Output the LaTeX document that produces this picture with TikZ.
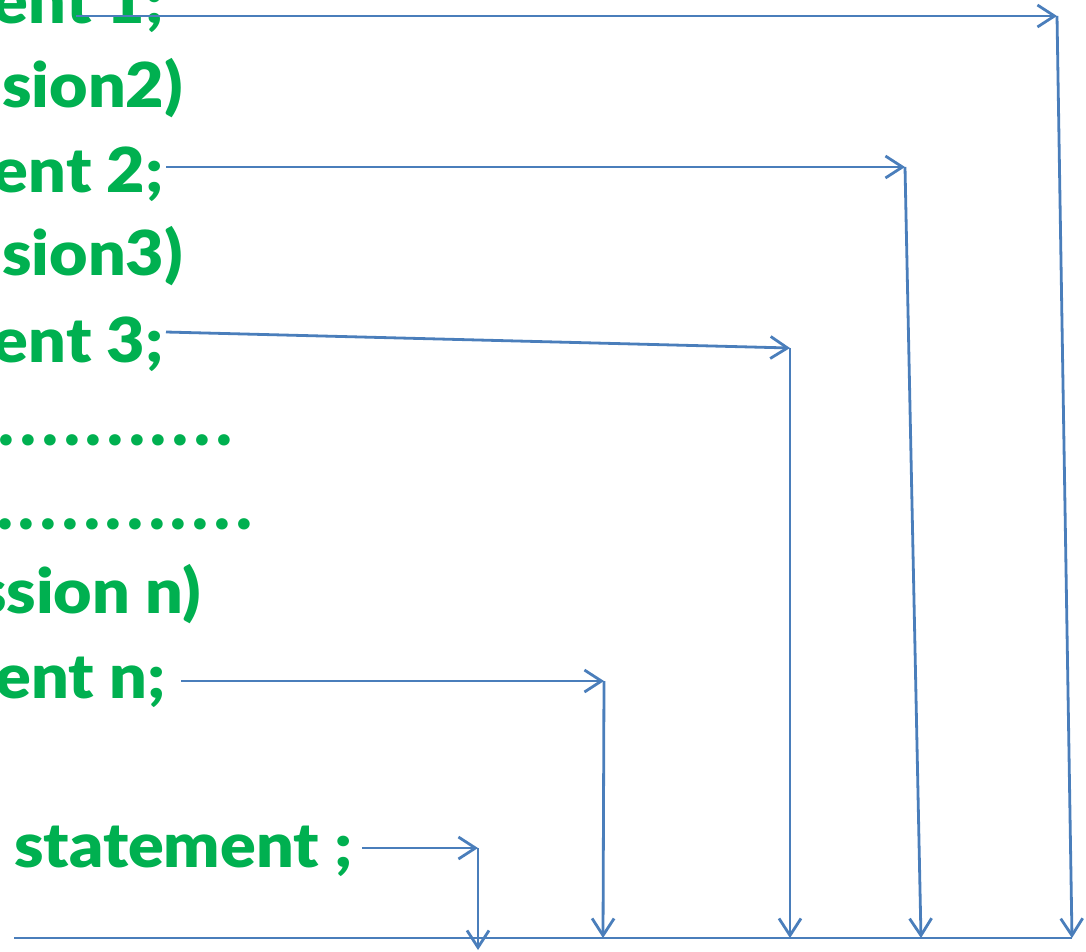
\documentclass[tikz,border=0pt]{standalone}
\usepackage{fontspec}
\setmainfont{Lato}
\newfontfamily\codefont{Lato Black}[FakeStretch=1.07]
\newfontfamily\dotfont{Lato Black}[LetterSpace=9]
\usetikzlibrary{arrows.meta}
\definecolor{codegreen}{HTML}{00B050}
\definecolor{flowblue}{HTML}{4A7EBB}
\begin{document}
\begin{tikzpicture}[x=1pt,y=-1pt,
  code/.style={font=\codefont\fontsize{62}{70}\selectfont, text=codegreen, inner sep=0pt, anchor=base east},
  dots/.style={font=\dotfont\fontsize{66}{70}\selectfont, text=codegreen, inner sep=0pt, anchor=base east},
  conn/.style={draw=flowblue, line width=2.8pt, -{Straight Barb[length=17pt,width=22pt]}},
  plain/.style={draw=flowblue, line width=2.8pt}]
\useasboundingbox (0,0) rectangle (1086,951);

% ladder of statements
\node[code] (s1) at (164,23) {statement 1;};
\node[code] (e2) at (183,107) {(expression2)};
\node[code] (s2) at (164,192) {statement 2;};
\node[code] (e3) at (183,275) {(expression3)};
\node[code] (s3) at (164,362) {statement 3;};
\node[dots] (d1) at (232,445) {............};
\node[dots] (d2) at (252,529) {.............};
\node[code] (en) at (201,613) {(expression n)};
\node[code] (sn) at (166,698) {statement n;};
\node[code] (sd) at (353,867) {statement ;};

% corners and ends of the flow lines
\coordinate (a1) at (76,16);   \coordinate (c1) at (1057,16);  \coordinate (b1) at (1072,938);
\coordinate (a2) at (166,167); \coordinate (c2) at (905,167);  \coordinate (b2) at (921,938);
\coordinate (a3) at (166,332); \coordinate (c3) at (790,348);  \coordinate (b3) at (790,938);
\coordinate (an) at (181,681); \coordinate (cn) at (604,681);  \coordinate (bn) at (603,938);
\coordinate (ad) at (362,848); \coordinate (cd) at (478,848);  \coordinate (bd) at (478,950);
\coordinate (l0) at (14,938);  \coordinate (l1) at (1072,938);

\draw[conn] (a1) -- (c1);
\draw[conn] (c1) -- (b1);
\draw[conn] (a2) -- (c2);
\draw[conn] (c2) -- (b2);
\draw[conn] (a3) -- (c3);
\draw[conn] (c3) -- (b3);
\draw[conn] (an) -- (cn);
\draw[conn] (cn) -- (bn);
\draw[conn] (ad) -- (cd);
\draw[conn] (cd) -- (bd);
\draw[plain] (l0) -- (l1);
\end{tikzpicture}
\end{document}
